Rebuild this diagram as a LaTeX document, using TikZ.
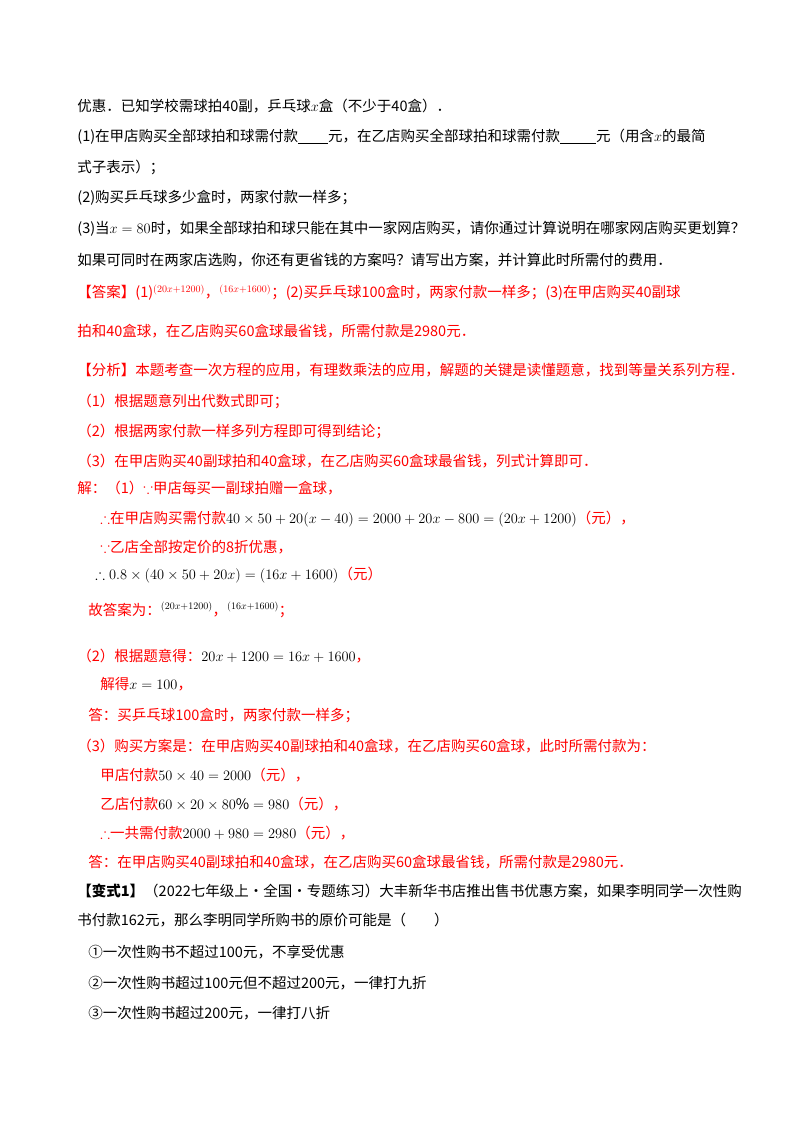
\documentclass[tikz,border=0pt]{standalone}
\usepackage{amssymb}
\usepackage{fontspec}
\setmainfont{Noto Sans CJK SC}
\tikzset{every picture/.style={line width=0.75pt}}
\tikzset{
  txt/.style={anchor=west,inner sep=0pt,font=\fontsize{14.5}{16}\selectfont},
  ans/.style={txt,text={rgb,255:red,255;green,0;blue,0}},
  hd/.style={txt,font=\fontsize{14.5}{16}\selectfont\bfseries}
}
\begin{document}
\begin{tikzpicture}[x=1pt,y=1pt,yscale=-1,xscale=1]
\useasboundingbox (0,0) rectangle (800,1132);
% question
\node[txt] (q0) at (77,106) {优惠．已知学校需球拍40副，乒乓球$x$盒（不少于40盒）．};
\node[txt] (q1) at (77,137) {(1)在甲店购买全部球拍和球需付款\underline{\hspace{30pt}}元，在乙店购买全部球拍和球需付款\underline{\hspace{36pt}}元（用含$x$的最简};
\node[txt] (q1b) at (77,167) {式子表示）；};
\node[txt] (q2) at (77,198) {(2)购买乒乓球多少盒时，两家付款一样多；};
\node[txt] (q3) at (77,229) {(3)当$x=80$时，如果全部球拍和球只能在其中一家网店购买，请你通过计算说明在哪家网店购买更划算？};
\node[txt] (q3b) at (77,260) {如果可同时在两家店选购，你还有更省钱的方案吗？请写出方案，并计算此时所需付的费用．};
% answer
\node[ans] (a0) at (77,293) {【答案】(1)$^{\left(20x+1200\right)}$，$^{\left(16x+1600\right)}$；(2)买乒乓球100盒时，两家付款一样多；(3)在甲店购买40副球};
\node[ans] (a1) at (77,331) {拍和40盒球，在乙店购买60盒球最省钱，所需付款是2980元．};
\node[ans] (f0) at (77,370) {【分析】本题考查一次方程的应用，有理数乘法的应用，解题的关键是读懂题意，找到等量关系列方程．};
\node[ans] (f1) at (77,401) {（1）根据题意列出代数式即可；};
\node[ans] (f2) at (77,431) {（2）根据两家付款一样多列方程即可得到结论；};
\node[ans] (f3) at (77,461) {（3）在甲店购买40副球拍和40盒球，在乙店购买60盒球最省钱，列式计算即可．};
% solution
\node[ans] (s0) at (77,488) {解：（1）$\because$甲店每买一副球拍赠一盒球，};
\node[ans] (s1) at (100,519) {$\therefore$在甲店购买需付款\textcolor{black}{$40\times50+20(x-40)=2000+20x-800=(20x+1200)$}（元），};
\node[ans] (s2) at (100,547) {$\because$乙店全部按定价的8折优惠，};
\node[ans] (s3) at (95,575) {\textcolor{black}{$\therefore0.8\times(40\times50+20x)=(16x+1600)$}（元）};
\node[ans] (s4) at (88,610) {故答案为：\textcolor{black}{$^{\left(20x+1200\right)}$}，\textcolor{black}{$^{\left(16x+1600\right)}$}；};
\node[ans] (s5) at (77,656) {（2）根据题意得：\textcolor{black}{$20x+1200=16x+1600$}，};
\node[ans] (s6) at (100,684) {解得\textcolor{black}{$x=100$}，};
\node[ans] (s7) at (88,716) {答：买乒乓球100盒时，两家付款一样多；};
\node[ans] (s8) at (77,746) {（3）购买方案是：在甲店购买40副球拍和40盒球，在乙店购买60盒球，此时所需付款为：};
\node[ans] (s9) at (100,775) {甲店付款\textcolor{black}{$50\times40=2000$}（元），};
\node[ans] (s10) at (100,804) {乙店付款\textcolor{black}{$60\times20\times80\%=980$}（元），};
\node[ans] (s11) at (100,833) {$\therefore$一共需付款\textcolor{black}{$2000+980=2980$}（元），};
\node[ans] (s12) at (88,862) {答：在甲店购买40副球拍和40盒球，在乙店购买60盒球最省钱，所需付款是2980元．};
% next problem
\node[txt] (b0) at (77,891) {\textbf{【变式1】}（2022七年级上·全国·专题练习）大丰新华书店推出售书优惠方案，如果李明同学一次性购};
\node[txt] (b1) at (77,920) {书付款162元，那么李明同学所购书的原价可能是（\hspace{28pt}）};
\node[txt] (c1) at (88,952) {①一次性购书不超过100元，不享受优惠};
\node[txt] (c2) at (88,983) {②一次性购书超过100元但不超过200元，一律打九折};
\node[txt] (c3) at (88,1013) {③一次性购书超过200元，一律打八折};
\end{tikzpicture}
\end{document}
